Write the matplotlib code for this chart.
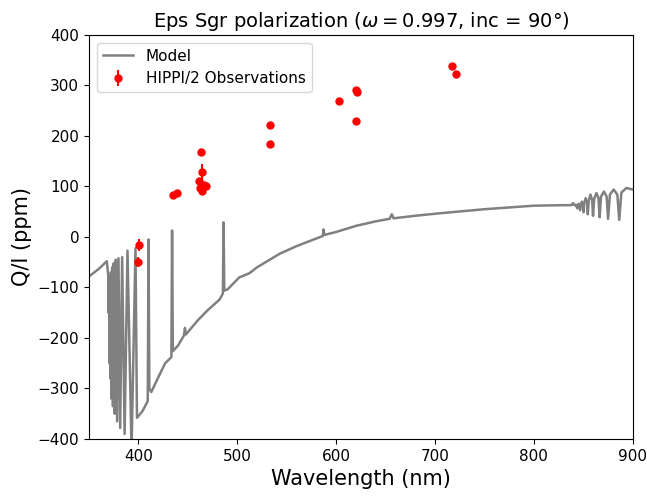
import numpy as np
import matplotlib
matplotlib.use('Agg')
import matplotlib.pyplot as plt

# model spectrum (wavelength nm, Q/I ppm)
model_wl = [350, 360, 368, 369.4, 369.7, 370.0, 370.4, 370.8, 371.2, 371.7,
            372.2, 372.8, 373.4, 374.2, 375.0, 376.0, 377.1, 378.4, 379.8,
            381.5, 383.5, 386.0, 388.9, 393.0, 397.0, 398.5, 404, 409.4,
            410.2, 411.0, 413, 420, 427, 433.3, 434.0, 434.8, 440, 446,
            447, 448, 460, 470, 482, 485.4, 486.1, 486.8, 490, 502, 512,
            520, 543, 560, 586.5, 587.2, 588, 600, 620, 640, 654, 656.3,
            658, 680, 705, 750, 800, 830, 838, 839.5, 841,
            842.5, 843.8, 845.2, 846.7, 847.4, 848.5, 849.6, 850.2,
            851.0, 852.4, 853.8, 854.5, 855.5, 857.2, 858.9, 859.8,
            861.0, 863.2, 865.3, 866.5, 867.9, 870.8, 873.6, 875.0,
            876.9, 880.7, 884.4, 886.3, 888.5, 893.5, 900]
model_qi = [-78, -63, -48, -75, -150, -110, -90, -250, -80, -280,
            -70, -320, -60, -335, -52, -350, -45, -365, -42,
            -378, -40, -390, -27, -420, -22, -358, -345, -325,
            -5, -300, -307, -278, -250, -238, 13, -226, -215, -195,
            -180, -193, -165, -145, -124, -112, 29, -106, -104, -80, -72,
            -60, -33, -18, 2, 15, 4, 10, 22, 31, 36, 45,
            37, 42, 47, 55, 62, 63, 63, 67, 63,
            64, 57, 66, 53, 63, 70, 64, 49,
            68, 77, 68, 45, 72, 84, 73, 42,
            76, 87, 77, 39, 80, 90, 80, 36,
            84, 94, 84, 34, 88, 97, 94]

# HIPPI/2 observations
obs_wl = [399.8, 400.8, 435.2, 438.6, 461.4, 462.2, 463.1, 463.8, 464.5,
          465.5, 466.5, 468.8, 532.8, 532.8, 602.5, 619.7, 621.4, 619.7,
          717.4, 721.4]
obs_qi = [-49.5, -15.2, 83.7, 86.5, 110, 97, 168, 128.6, 92,
          100, 103.5, 101, 220.9, 184.6, 268.4, 291.5, 286.2, 229.5,
          339, 323.2]
obs_err = [9, 12, 3, 3, 6, 6, 4, 16, 8,
           7, 6, 6, 3, 3, 3, 3, 3, 3,
           3, 3]

fig = plt.figure(figsize=(6.47, 4.97), dpi=100)
ax = fig.add_axes([0.1376, 0.1167, 0.8404, 0.8129])

ax.plot(model_wl, model_qi, color='grey', lw=1.8, label='Model')
ax.errorbar(obs_wl, obs_qi, yerr=obs_err, fmt='o', color='red',
            ms=5, elinewidth=1.5, capsize=0, label='HIPPI/2 Observations')

ax.set_xlim(350, 900)
ax.set_ylim(-400, 400)
ax.set_xticks([400, 500, 600, 700, 800, 900])
ax.set_yticks(np.arange(-400, 401, 100))
ax.tick_params(labelsize=11)
ax.set_xlabel('Wavelength (nm)', fontsize=15)
ax.set_ylabel('Q/I (ppm)', fontsize=15)
ax.set_title(r'Eps Sgr polarization ($\omega = 0.997$, inc = 90°)', fontsize=14)
ax.legend(loc='upper left', fontsize=11)

fig.savefig('out.png', dpi=100)
